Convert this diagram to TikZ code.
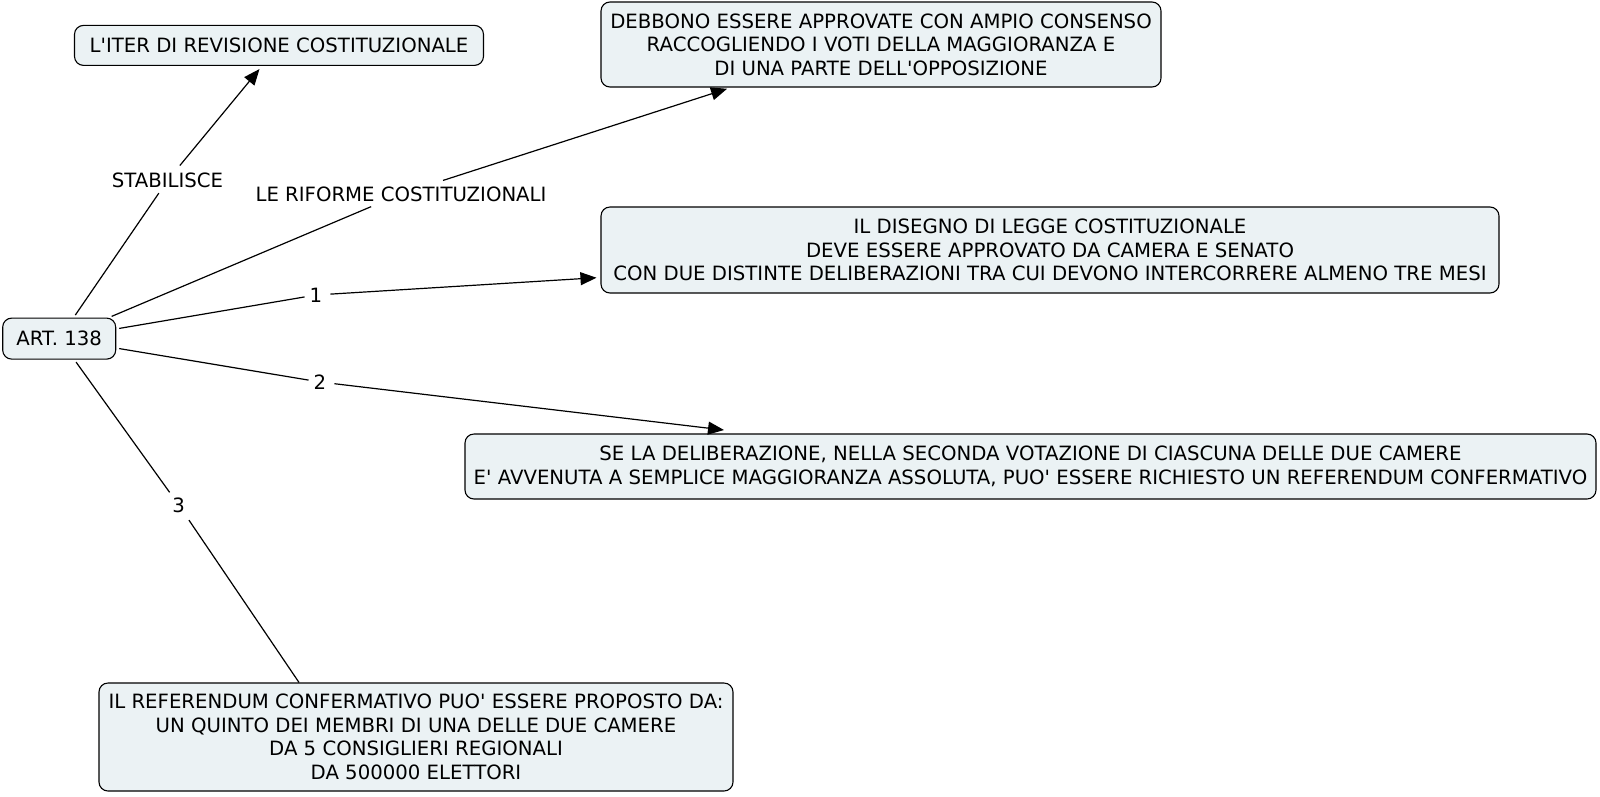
\documentclass[tikz,border=0pt]{standalone}
\usepackage{fontspec}
\setmainfont{DejaVu Sans}
\usetikzlibrary{arrows.meta}
\definecolor{boxfill}{RGB}{235,242,244}
\newcommand{\ap}{\textquotesingle}
\begin{document}
\begin{tikzpicture}[x=1pt,y=-1pt,
  concept/.style={draw=black, line width=1.1pt, fill=boxfill, rounded corners=9pt,
    inner sep=0pt, align=center, font=\fontsize{19.7}{23.5}\selectfont},
  linkphrase/.style={inner sep=5pt, font=\fontsize{19.7}{23.5}\selectfont},
  conn/.style={line width=1.2pt, shorten <=3pt},
  arr/.style={conn, -{Triangle[length=16pt,width=13pt]}, shorten >=4pt}]
\useasboundingbox (0,0) rectangle (1600,796);

\node[concept, minimum width=409pt, minimum height=40pt] (iter) at (279,45.4)
  {L\ap ITER DI REVISIONE COSTITUZIONALE};
\node[concept, minimum width=560pt, minimum height=85pt] (debb) at (881,44.5)
  {DEBBONO ESSERE APPROVATE CON AMPIO CONSENSO\\RACCOGLIENDO I VOTI DELLA MAGGIORANZA E\\DI UNA PARTE DELL\ap OPPOSIZIONE};
\node[concept, minimum width=898pt, minimum height=86pt] (dis) at (1050,250)
  {IL DISEGNO DI LEGGE COSTITUZIONALE\\DEVE ESSERE APPROVATO DA CAMERA E SENATO\\CON DUE DISTINTE DELIBERAZIONI TRA CUI DEVONO INTERCORRERE ALMENO TRE MESI};
\node[concept, minimum width=113pt, minimum height=41pt] (art) at (59.2,338.6)
  {ART. 138};
\node[concept, minimum width=1131pt, minimum height=65pt] (se) at (1030.5,466.5)
  {SE LA DELIBERAZIONE, NELLA SECONDA VOTAZIONE DI CIASCUNA DELLE DUE CAMERE\\E\ap{} AVVENUTA A SEMPLICE MAGGIORANZA ASSOLUTA, PUO\ap{} ESSERE RICHIESTO UN REFERENDUM CONFERMATIVO};
\node[concept, minimum width=634pt, minimum height=108pt] (ref) at (416,737)
  {IL REFERENDUM CONFERMATIVO PUO\ap{} ESSERE PROPOSTO DA:\\UN QUINTO DEI MEMBRI DI UNA DELLE DUE CAMERE\\DA 5 CONSIGLIERI REGIONALI\\DA 500000 ELETTORI};

\node[linkphrase] (stab) at (167.5,180.5) {STABILISCE};
\node[linkphrase] (rif) at (401,194) {LE RIFORME COSTITUZIONALI};
\node[linkphrase] (l1) at (316,295) {1};
\node[linkphrase] (l2) at (320,382) {2};
\node[linkphrase] (l3) at (178.7,505) {3};

\draw[conn] (art) -- (stab);
\draw[arr] (stab) -- (iter);
\draw[conn] (art) -- (rif);
\draw[arr] (rif) -- (debb.196);
\draw[conn] (art) -- (l1);
\draw[arr] (l1) -- (dis);
\draw[conn] (art) -- (l2);
\draw[arr, shorten >=29pt] (l2) -- (se);
\draw[conn] (art) -- (l3);
\draw[conn] (l3) -- (ref.155);
\end{tikzpicture}
\end{document}
